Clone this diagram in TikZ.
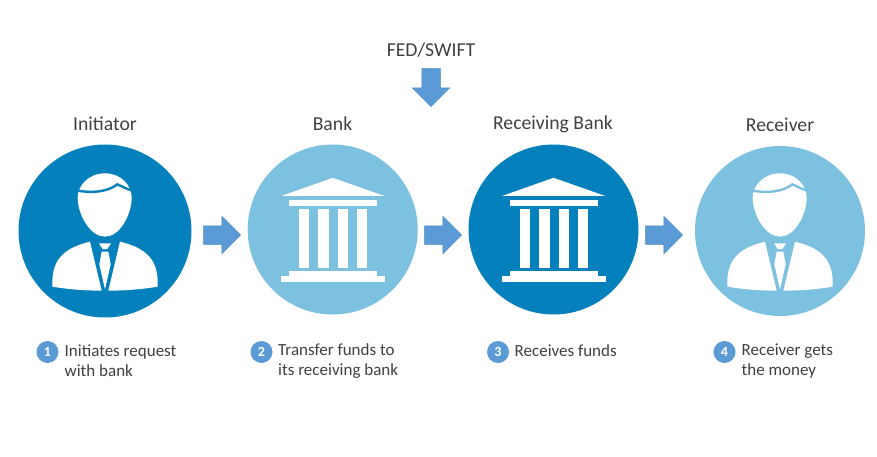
\documentclass[tikz,border=0pt]{standalone}
\usepackage{fontspec}
\setmainfont{Carlito}
\usetikzlibrary{shapes.arrows}
\definecolor{darkblue}{HTML}{0480BC}
\definecolor{lightblue}{HTML}{7DC1E0}
\definecolor{arrowblue}{HTML}{5B9BD5}
\definecolor{arrowedge}{HTML}{4A86BE}
\definecolor{txt}{HTML}{404040}
\newcommand{\shaftbar}{\rule{0pt}{18pt}}
\tikzset{
  disc/.style={circle,inner sep=0pt,minimum size=#1},
  heading/.style={text=txt,font=\fontsize{19.7}{22}\selectfont,inner sep=0pt},
  caption/.style={text=txt,font=\fontsize{17}{20}\selectfont,align=left,anchor=west,inner sep=0pt},
  badge/.style={circle,fill=arrowblue,text=white,inner sep=0pt,minimum size=22,font=\fontsize{14}{16}\bfseries\selectfont},
  flow/.style={single arrow,fill=arrowblue,draw=arrowedge,line width=.5pt,inner sep=0pt,minimum height=37,single arrow head extend=9.5,single arrow tip angle=90,single arrow head indent=0pt},
  person/.pic={
    \begin{scope}[x=1/3*1pt,y=-1/3*1pt]
      \fill[white] (-82,-100) .. controls (-82,-50) and (-45,17) .. (0,17) .. controls (45,17) and (80,-50) .. (80,-100) .. controls (80,-135) and (50,-173) .. (0,-173) .. controls (-50,-173) and (-82,-135) .. (-82,-100) -- cycle;
      \draw[#1,line width=2.4pt] (-86,-122) .. controls (-40,-112) and (10,-118) .. (37,-140) .. controls (48,-136) and (65,-125) .. (86,-120);
      \fill[white] (-158,167) .. controls (-160,100) and (-140,55) .. (-45,32) -- (-10,179) .. controls (-60,179) and (-110,175) .. (-158,167) -- cycle;
      \fill[white] (158,167) .. controls (160,100) and (140,55) .. (45,32) -- (10,179) .. controls (60,179) and (110,175) .. (158,167) -- cycle;
      \fill[white] (-18,37) -- (18,37) -- (7,54) -- (-7,54) -- cycle;
      \fill[white] (-10,62) -- (10,62) -- (17,100) -- (0,175) -- (-17,100) -- cycle;
    \end{scope}
  },
  bankicon/.pic={
    \begin{scope}[x=1/3*1pt,y=-1/3*1pt]
      \fill[white] (-153,-101) -- (0,-155) -- (154,-101) -- cycle;
      \fill[white] (-130,-88) rectangle (132,-71);
      \foreach \cx in {-101,-43,15,73} \fill[white] (\cx,-61) rectangle ++(31,176);
      \fill[white] (-130,125) rectangle (132,140);
      \fill[white] (-156,140) rectangle (158,158);
    \end{scope}
  }
}
\begin{document}
\begin{tikzpicture}[x=1pt,y=-1pt]
\useasboundingbox (0,0) rectangle (877,457);
\node[disc=173,fill=darkblue] (initiator) at (105,231) {};
\node[disc=170,fill=lightblue] (bank) at (332.7,229.5) {};
\node[disc=170,fill=darkblue] (recvbank) at (553.5,229.5) {};
\node[disc=170,fill=lightblue] (receiver) at (780,231) {};
\pic at (initiator.center) {person=darkblue};
\pic at (bank.center) {bankicon};
\pic at (recvbank.center) {bankicon};
\pic at (receiver.center) {person=lightblue};
\node[flow] (a1) at (217.5,235) {\shaftbar};
\node[flow] (a2) at (438.5,235) {\shaftbar};
\node[flow] (a3) at (659.5,235) {\shaftbar};
\node[flow,rotate=-90,minimum height=38] (a0) at (431,83) {\shaftbar};
\node[heading] (fed) at (431,50) {FED/SWIFT};
\node[heading] (h1) at (105,124) {Initiator};
\node[heading] (h2) at (332.5,124) {Bank};
\node[heading] (h3) at (553,124) {Receiving Bank};
\node[heading] (h4) at (780,125) {Receiver};
\node[badge] (b1) at (47.5,352) {1};
\node[badge] (b2) at (261.5,352) {2};
\node[badge] (b3) at (498,352) {3};
\node[badge] (b4) at (724.5,352) {4};
\node[caption] (c1) at (64.5,361) {Initiates request\\with bank};
\node[caption] (c2) at (278,361) {Transfer funds to\\its receiving bank};
\node[caption] (c3) at (514.5,351) {Receives funds};
\node[caption] (c4) at (741.5,361) {Receiver gets\\the money};
\end{tikzpicture}
\end{document}
